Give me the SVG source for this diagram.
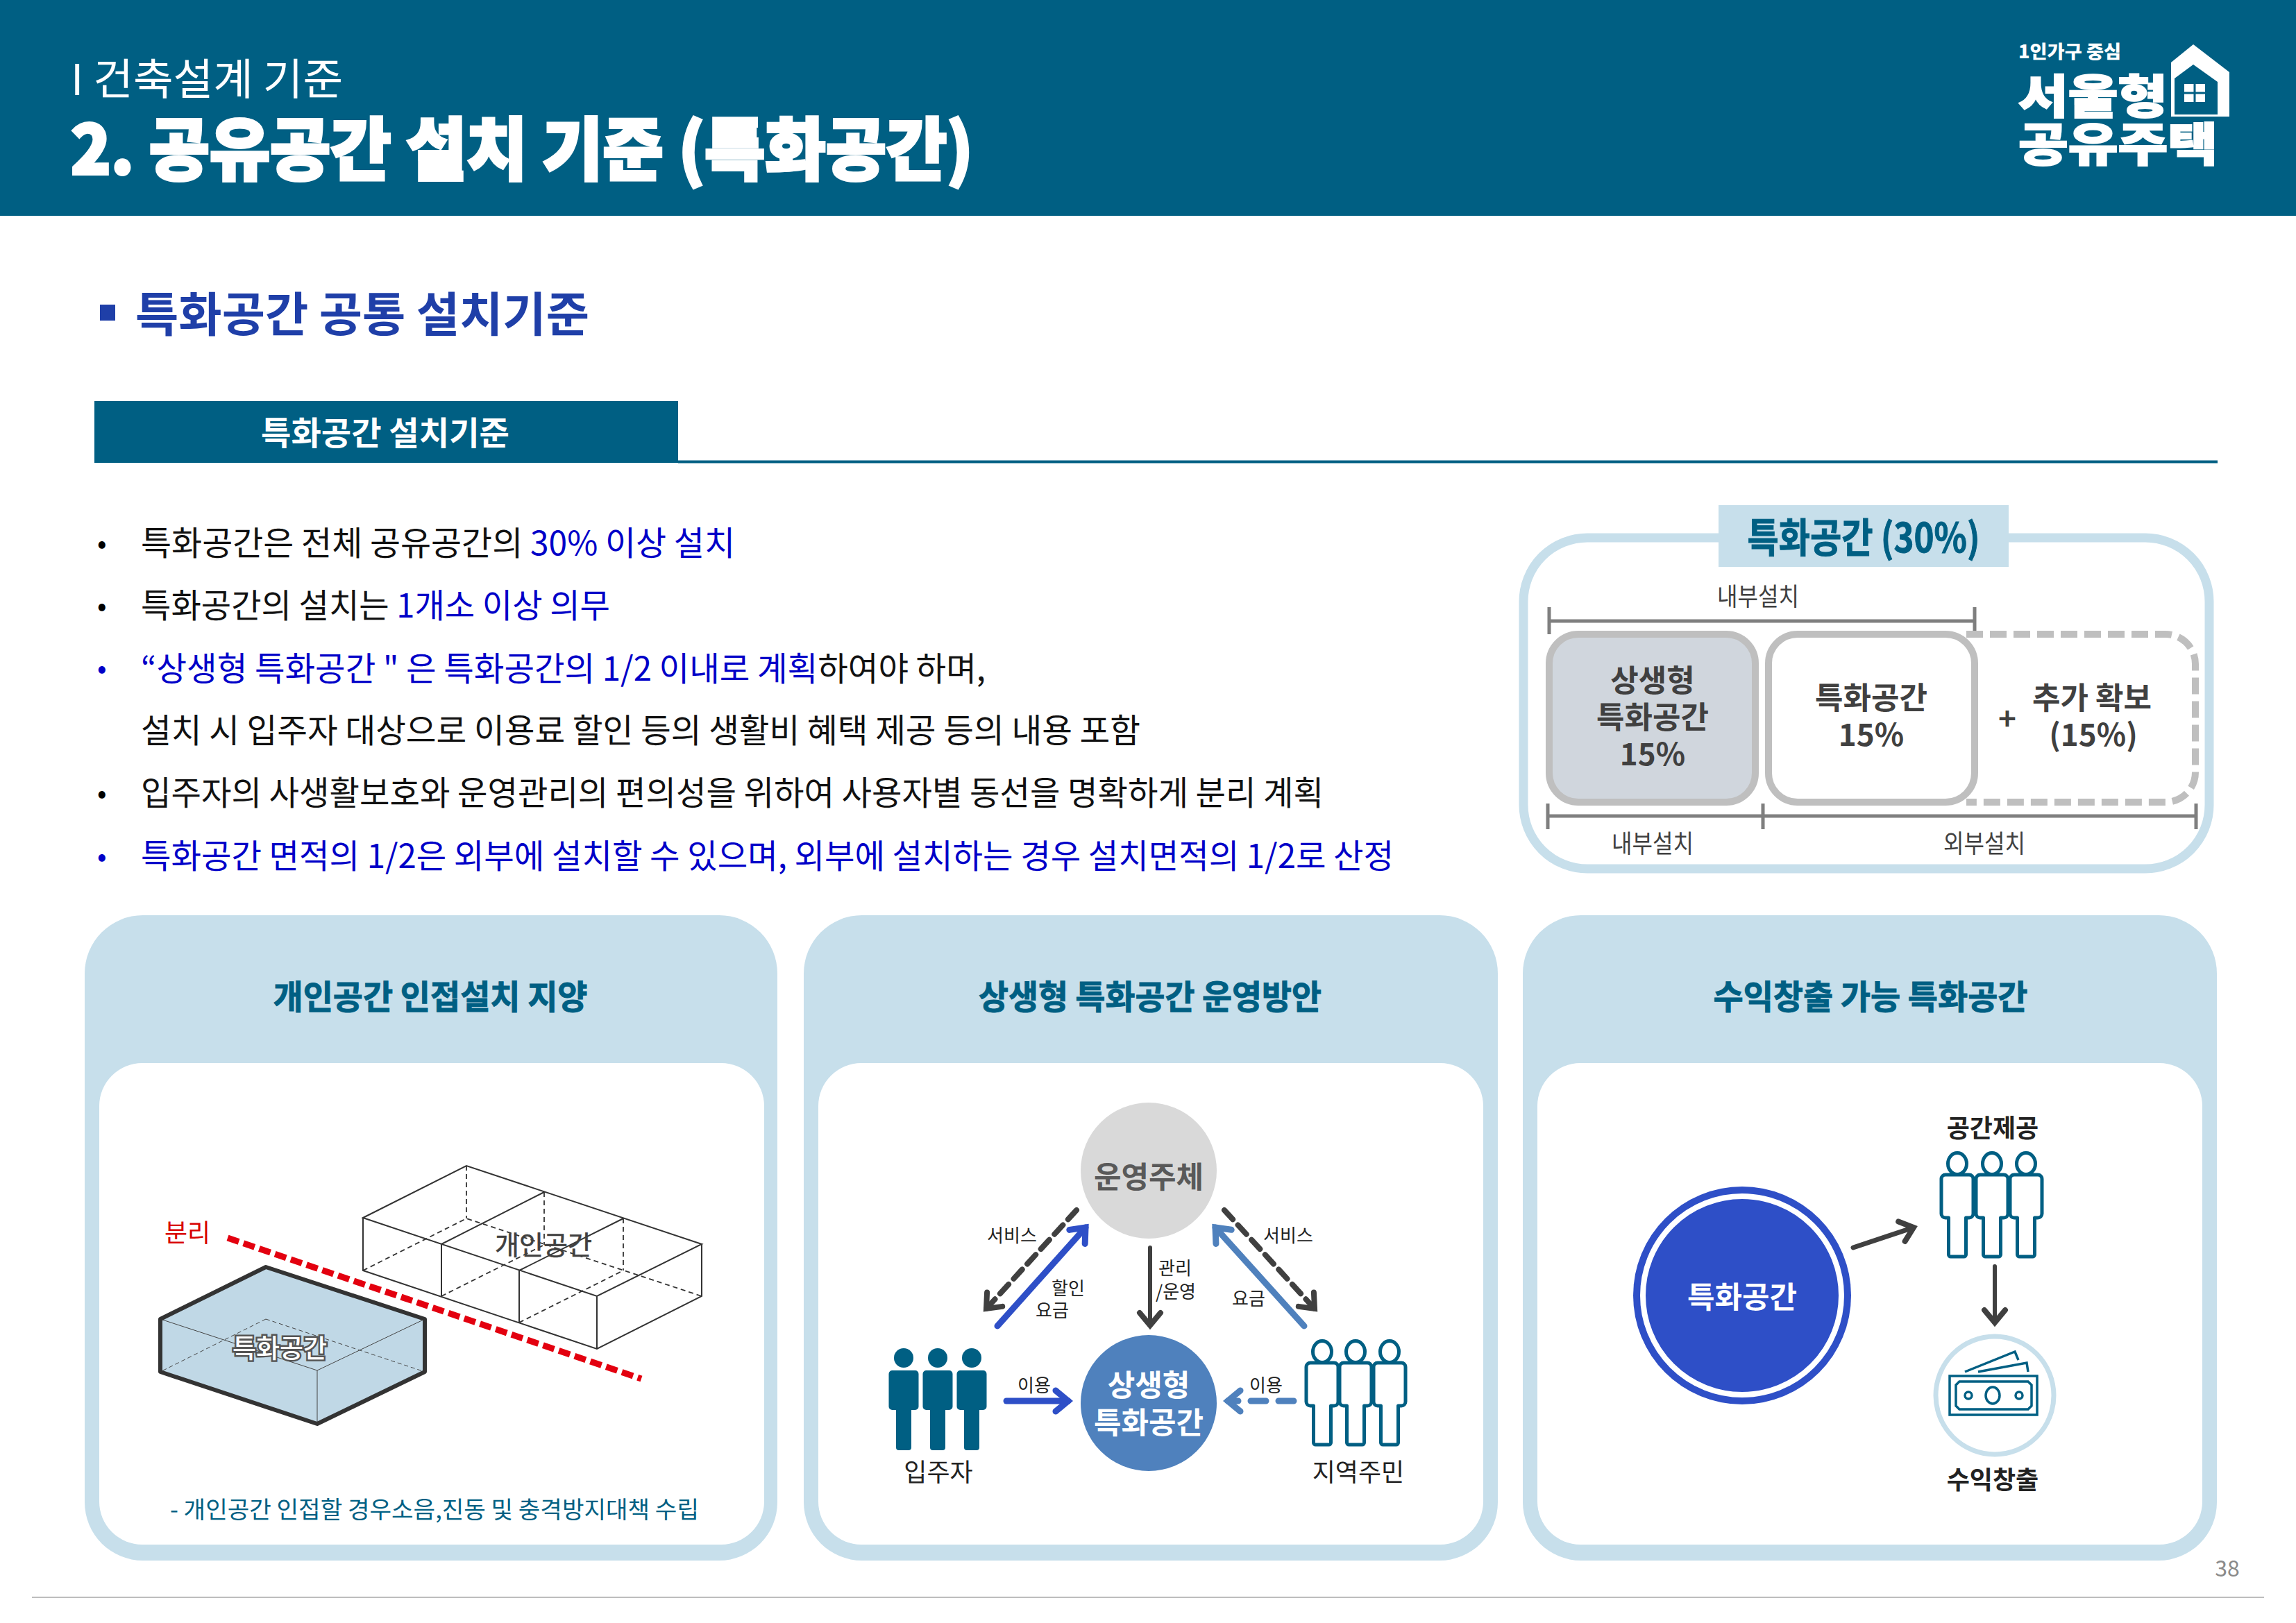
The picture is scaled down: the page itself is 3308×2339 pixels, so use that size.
<svg xmlns="http://www.w3.org/2000/svg" xmlns:xlink="http://www.w3.org/1999/xlink" width="3308" height="2339" viewBox="0 0 3308 2339">
<style>
text{font-family:"Noto Sans CJK KR","Noto Sans",sans-serif}
.b{font-weight:700}
.m{text-anchor:middle}
.w{fill:#fff}
.body{font-size:48px;fill:#111}
.blue{fill:#0000c8}
.dot{font-size:40px}
.card{fill:#c7dfeb}
.title{font-size:48px;font-weight:700;fill:#005f83;stroke:#005f83;stroke-width:1;text-anchor:middle}
.dim{stroke:#7f7f7f;stroke-width:5;fill:none}
.boxt{font-size:44px;font-weight:700;fill:#404040;text-anchor:middle}
.dimt{font-size:36px;fill:#404040;text-anchor:middle}
.sm{font-size:26px;fill:#222;text-anchor:middle}
.lab{font-size:36px;fill:#222;text-anchor:middle}
.circ{font-size:43px;font-weight:700;text-anchor:middle}
.th{stroke:#333;stroke-width:2;fill:none}
.da{stroke:#333;stroke-width:1.800;fill:none;stroke-dasharray:7 5}
.fine{stroke:#444;stroke-width:1;fill:none}
.fine-d{stroke:#444;stroke-width:1;fill:none;stroke-dasharray:6 4}
.pf{fill:#005f83}
.po{fill:#fff;stroke:#005f83;stroke-width:5;stroke-linejoin:round}
.mon{fill:none;stroke:#005f83;stroke-width:3.500}
.a{fill:none;stroke-linecap:round}
</style>
<defs>
<marker id="hd" markerUnits="userSpaceOnUse" markerWidth="40" markerHeight="40" viewBox="0 0 40 40" refX="32" refY="20" orient="auto"><path d="M14 5L32 20L14 35" fill="none" stroke="#404040" stroke-width="8" stroke-linecap="round"/></marker>
<marker id="hb" markerUnits="userSpaceOnUse" markerWidth="40" markerHeight="40" viewBox="0 0 40 40" refX="32" refY="20" orient="auto"><path d="M14 5L32 20L14 35" fill="none" stroke="#2e4fc7" stroke-width="9" stroke-linecap="round"/></marker>
<marker id="hl" markerUnits="userSpaceOnUse" markerWidth="40" markerHeight="40" viewBox="0 0 40 40" refX="32" refY="20" orient="auto"><path d="M14 5L32 20L14 35" fill="none" stroke="#4f81bd" stroke-width="9" stroke-linecap="round"/></marker>
<g id="pfill"><ellipse cx="0" cy="14" rx="14" ry="14"/><path d="M-21.500 37a5 5 0 0 1 5-5h33a5 5 0 0 1 5 5v47a5 5 0 0 1-5 5h-5.500v54a4 4 0 0 1-4 4h-14a4 4 0 0 1-4-4v-54h-5.500a5 5 0 0 1-5-5z"/></g>
<g id="pout"><path d="M-23 22a6 6 0 0 1 6-6h34a6 6 0 0 1 6 6v50a6 6 0 0 1-6 6h-4.500v53a3 3 0 0 1-3 3h-19a3 3 0 0 1-3-3v-53h-4.500a6 6 0 0 1-6-6z"/><ellipse cx="0" cy="0" rx="13.500" ry="15.500"/></g>
</defs>
<rect width="3308" height="2339" fill="#fff"/>

<g id="header">
<rect width="3308" height="311" fill="#005f83"/>
<text x="102" y="137" font-size="62" fill="#fff" textLength="392" lengthAdjust="spacingAndGlyphs">I 건축설계 기준</text>
<text x="102" y="251" font-size="98" font-weight="900" fill="#fff" stroke="#fff" stroke-width="4" textLength="1300" lengthAdjust="spacingAndGlyphs">2. 공유공간 설치 기준 (특화공간)</text>
</g>
<g id="logo">
<text x="2908" y="84" font-size="26" font-weight="900" fill="#fff" textLength="148" lengthAdjust="spacingAndGlyphs">1인가구 중심</text>
<text x="2908" y="163" font-size="66" font-weight="900" fill="#fff" stroke="#fff" stroke-width="2" textLength="215" lengthAdjust="spacingAndGlyphs">서울형</text>
<text x="2908" y="232" font-size="66" font-weight="900" fill="#fff" stroke="#fff" stroke-width="2" textLength="287" lengthAdjust="spacingAndGlyphs">공유주택</text>
<path d="M3160 64L3212 104V168H3128V90Z" fill="#fff"/>
<path d="M3160 93L3133 113V165H3195V118Z" fill="#005f83"/>
<path d="M3195 118L3212 134V104H3195Z" fill="#fff"/>
<rect x="3147" y="121" width="30" height="26" fill="#fff"/>
<path d="M3162 121V147M3147 134H3177" stroke="#005f83" stroke-width="3"/>
</g>

<g id="section-heading">
<rect x="144" y="439" width="22" height="23" fill="#1f3fa8"/>
<text x="195" y="478" font-size="68" font-weight="700" fill="#1f3fa8" textLength="654" lengthAdjust="spacingAndGlyphs">특화공간 공통 설치기준</text>
</g>
<g id="tab">
<rect x="136" y="578" width="841" height="89" fill="#005f83"/>
<path d="M977 665.500H3195" stroke="#005f83" stroke-width="4"/>
<text x="555" y="641" font-size="47" font-weight="700" fill="#fff" text-anchor="middle" textLength="358" lengthAdjust="spacingAndGlyphs">특화공간 설치기준</text>
</g>

<g id="bullets">
<text x="140" y="797" class="dot">•</text>
<text x="203" y="800" class="body" textLength="856" lengthAdjust="spacingAndGlyphs">특화공간은 전체 공유공간의 <tspan class="blue">30% 이상 설치</tspan></text>
<text x="140" y="887" class="dot">•</text>
<text x="203" y="890" class="body" textLength="676" lengthAdjust="spacingAndGlyphs">특화공간의 설치는 <tspan class="blue">1개소 이상 의무</tspan></text>
<text x="140" y="977" class="dot blue">•</text>
<text x="203" y="981" class="body" textLength="1217" lengthAdjust="spacingAndGlyphs"><tspan class="blue">“상생형 특화공간 " 은 특화공간의 1/2 이내로 계획</tspan>하여야 하며,</text>
<text x="203" y="1070" class="body" textLength="1440" lengthAdjust="spacingAndGlyphs">설치 시 입주자 대상으로 이용료 할인 등의 생활비 혜택 제공 등의 내용 포함</text>
<text x="140" y="1157" class="dot">•</text>
<text x="203" y="1160" class="body" textLength="1704" lengthAdjust="spacingAndGlyphs">입주자의 사생활보호와 운영관리의 편의성을 위하여 사용자별 동선을 명확하게 분리 계획</text>
<text x="140" y="1248" class="dot blue">•</text>
<text x="203" y="1251" class="body blue" textLength="1805" lengthAdjust="spacingAndGlyphs">특화공간 면적의 1/2은 외부에 설치할 수 있으며, 외부에 설치하는 경우 설치면적의 1/2로 산정</text>
</g>

<g id="ratio-panel">
<rect x="2195" y="775" width="988" height="477" rx="92" fill="#fff" stroke="#c7dfeb" stroke-width="13"/>
<rect x="2476" y="728" width="418" height="89" fill="#c7dfeb"/>
<text x="2685" y="796" font-size="58" font-weight="700" fill="#005f83" stroke="#005f83" stroke-width="1" text-anchor="middle" textLength="335" lengthAdjust="spacingAndGlyphs">특화공간 (30%)</text>
<text x="2533" y="873" class="dimt" textLength="118" lengthAdjust="spacingAndGlyphs">내부설치</text>
<path class="dim" d="M2232 875V914M2232 895H2845M2845 875V914"/>
<path d="M2833 914H3120a43 43 0 0 1 43 43V1113a43 43 0 0 1-43 43H2833" fill="none" stroke="#bfbfbf" stroke-width="10" stroke-dasharray="24 10"/>
<rect id="box-a" x="2232" y="914" width="297" height="242" rx="42" fill="#d0d6dd" stroke="#bfbfbf" stroke-width="10"/>
<rect id="box-b" x="2548" y="914" width="297" height="242" rx="42" fill="#fff" stroke="#bfbfbf" stroke-width="10"/>
<text x="2381" y="997" class="boxt">상생형</text>
<text x="2381" y="1050" class="boxt">특화공간</text>
<text x="2381" y="1103" class="boxt">15%</text>
<text x="2696" y="1022" class="boxt">특화공간</text>
<text x="2696" y="1075" class="boxt">15%</text>
<text x="2892" y="1052" class="boxt">+</text>
<text x="3014" y="1022" class="boxt">추가 확보</text>
<text x="3016" y="1075" class="boxt">(15%)</text>
<path class="dim" d="M2230 1158V1195M2230 1176H3164M2540 1158V1195M3164 1158V1195"/>
<text x="2381" y="1229" class="dimt" textLength="118" lengthAdjust="spacingAndGlyphs">내부설치</text>
<text x="2859" y="1229" class="dimt" textLength="118" lengthAdjust="spacingAndGlyphs">외부설치</text>
</g>

<g id="card-1">
<rect class="card" x="122" y="1319" width="998" height="930" rx="84"/>
<rect x="143" y="1532" width="958" height="694" rx="62" fill="#fff"/>
<text x="620" y="1454" class="title" textLength="453" lengthAdjust="spacingAndGlyphs">개인공간 인접설치 지양</text>
<g id="private-space">
<path class="th" d="M523 1755L672 1680L1011 1793L860 1868ZM523 1755V1831L860 1944L1011 1868V1793M860 1868V1944M636 1793L784 1718M748 1831L898 1756M636 1793V1868M748 1831V1906"/>
<path class="da" d="M672 1680V1756M523 1831L672 1756L1011 1868M784 1718V1794M898 1756V1831M636 1868L784 1794M748 1906L898 1831"/>
<text x="783" y="1808" font-size="38" fill="#404040" text-anchor="middle" stroke="#404040" stroke-width=".6">개인공간</text>
</g>
<g id="special-space">
<path d="M231 1901L383 1826L612 1901V1977L457 2052L231 1977Z" fill="#c0d8e6"/>
<path class="fine" d="M231 1901L457 1975L612 1901M457 1975V2052"/>
<path class="fine-d" d="M383 1901L231 1977M383 1901L612 1977"/>
<path d="M231 1901L383 1826L612 1901V1977L457 2052L231 1977Z" fill="none" stroke="#333" stroke-width="6" stroke-linejoin="round"/>
<text x="403" y="1957" font-size="37" font-weight="500" fill="#fff" stroke="#555" stroke-width="5" paint-order="stroke" text-anchor="middle">특화공간</text>
</g>
<path d="M328 1784L924 1987" stroke="#e3000f" stroke-width="9" stroke-dasharray="17 7" fill="none"/>
<text x="270" y="1790" font-size="36" fill="#d80000" text-anchor="middle">분리</text>
<text x="245" y="2188" font-size="34" fill="#005f83" textLength="762" lengthAdjust="spacingAndGlyphs">- 개인공간 인접할 경우소음,진동 및 충격방지대책 수립</text>
</g>

<g id="card-2">
<rect class="card" x="1158" y="1319" width="1000" height="930" rx="84"/>
<rect x="1179" y="1532" width="958" height="694" rx="62" fill="#fff"/>
<text x="1657" y="1454" class="title" textLength="494" lengthAdjust="spacingAndGlyphs">상생형 특화공간 운영방안</text>
</g>
<g id="node-operator">
<circle cx="1655" cy="1687" r="98" fill="#d9d9d9"/>
<text x="1655" y="1712" class="circ" fill="#595959">운영주체</text>
</g>
<g id="node-shared">
<circle cx="1655" cy="2022" r="98" fill="#4f81bd"/>
<text x="1655" y="2012" class="circ w">상생형</text>
<text x="1655" y="2066" class="circ w">특화공간</text>
</g>
<g id="node-residents" class="pf">
<use href="#pfill" x="1302" y="1943"/><use href="#pfill" x="1351" y="1943"/><use href="#pfill" x="1400" y="1943"/>
<text x="1352" y="2135" class="lab">입주자</text>
</g>
<g id="node-locals" class="po">
<use href="#pout" x="1905" y="1948"/><use href="#pout" x="1953" y="1948"/><use href="#pout" x="2002" y="1948"/>
</g>
<text x="1957" y="2135" class="lab">지역주민</text>

<g id="card-3">
<rect class="card" x="2194" y="1319" width="1000" height="930" rx="84"/>
<rect x="2215" y="1532" width="958" height="694" rx="62" fill="#fff"/>
<text x="2695" y="1454" class="title" textLength="453" lengthAdjust="spacingAndGlyphs">수익창출 가능 특화공간</text>
</g>
<g id="node-special">
<circle cx="2510" cy="1867" r="157" fill="#2e4fc7"/>
<circle cx="2510" cy="1867" r="143" fill="none" stroke="#fff" stroke-width="8"/>
<text x="2510" y="1885" class="circ w">특화공간</text>
</g>
<g id="node-provide" class="po">
<use href="#pout" x="2820" y="1677"/><use href="#pout" x="2870" y="1677"/><use href="#pout" x="2919" y="1677"/>
</g>
<text x="2871" y="1639" class="lab b">공간제공</text>
<g id="node-revenue">
<circle cx="2874" cy="2011" r="85" fill="#fff" stroke="#c7dfeb" stroke-width="7"/>
<rect class="mon" x="2809" y="1983" width="126" height="56"/>
<path class="mon" d="M2823 1991H2922L2927 1996V2026L2922 2031H2823L2818 2026V1996Z"/>
<ellipse class="mon" cx="2871" cy="2011" rx="10" ry="12"/>
<circle class="mon" cx="2836" cy="2011" r="5"/><circle class="mon" cx="2909" cy="2011" r="5"/>
<path class="mon" d="M2831 1977L2903 1948L2908 1960M2850 1977L2920 1964L2922 1977"/>
<text x="2871" y="2146" class="lab b">수익창출</text>
</g>

<g id="connectors">
<path class="a" d="M1551 1744L1421 1886" stroke="#404040" stroke-width="8" stroke-dasharray="18 11" marker-end="url(#hd)"/>
<path class="a" d="M1437 1911L1564 1769" stroke="#2e4fc7" stroke-width="9" marker-end="url(#hb)"/>
<path class="a" d="M1764 1744L1894 1886" stroke="#404040" stroke-width="8" stroke-dasharray="18 11" marker-end="url(#hd)"/>
<path class="a" d="M1879 1911L1751 1769" stroke="#4f81bd" stroke-width="9" marker-end="url(#hl)"/>
<path class="a" d="M1657 1798V1910" stroke="#404040" stroke-width="6" marker-end="url(#hd)"/>
<path class="a" d="M1450 2019H1539" stroke="#2e4fc7" stroke-width="9" marker-end="url(#hb)"/>
<path class="a" d="M1864 2019H1769" stroke="#4f81bd" stroke-width="9" stroke-dasharray="22 18" marker-end="url(#hl)"/>
<path class="a" d="M2670 1798L2757 1769" stroke="#404040" stroke-width="7" marker-end="url(#hd)"/>
<path class="a" d="M2874 1825V1906" stroke="#404040" stroke-width="6" marker-end="url(#hd)"/>
</g>
<g id="connector-labels">
<text x="1458" y="1790" class="sm">서비스</text>
<text x="1856" y="1790" class="sm">서비스</text>
<text x="1539" y="1866" class="sm">할인</text>
<text x="1516" y="1898" class="sm">요금</text>
<text x="1693" y="1837" class="sm">관리</text>
<text x="1694" y="1871" class="sm">/운영</text>
<text x="1799" y="1881" class="sm">요금</text>
<text x="1490" y="2006" class="sm">이용</text>
<text x="1824" y="2006" class="sm">이용</text>
</g>

<g id="footer">
<path d="M46 2302H3262" stroke="#bdbdbd" stroke-width="2"/>
<text x="3209" y="2272" font-size="32" fill="#8a8a8a" text-anchor="middle">38</text>
</g>
</svg>
